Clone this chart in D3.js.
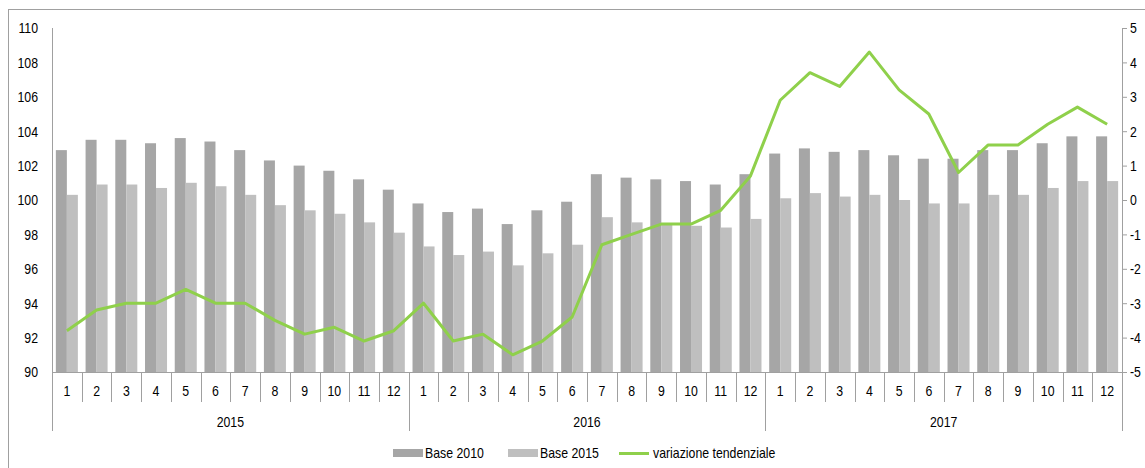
<!DOCTYPE html>
<html>
<head>
<meta charset="utf-8">
<script src="https://cdn.jsdelivr.net/npm/d3@7"></script>
<style>
  body { margin: 0; background: #fff; }
  text { font-family: "Liberation Sans Narrow", "Arial Narrow", "Liberation Sans", Arial, sans-serif; font-size: 15px; fill: #000; }
</style>
</head>
<body>
<script>
// chart values
const years = ["2015", "2016", "2017"];
const months = ["1","2","3","4","5","6","7","8","9","10","11","12"];
const base2010 = [
  102.9, 103.5, 103.5, 103.3, 103.6, 103.4, 102.9, 102.3, 102.0, 101.7, 101.2, 100.6,
  99.8, 99.3, 99.5, 98.6, 99.4, 99.9, 101.5, 101.3, 101.2, 101.1, 100.9, 101.5,
  102.7, 103.0, 102.8, 102.9, 102.6, 102.4, 102.4, 102.9, 102.9, 103.3, 103.7, 103.7
];
const base2015 = [
  100.3, 100.9, 100.9, 100.7, 101.0, 100.8, 100.3, 99.7, 99.4, 99.2, 98.7, 98.1,
  97.3, 96.8, 97.0, 96.2, 96.9, 97.4, 99.0, 98.7, 98.6, 98.5, 98.4, 98.9,
  100.1, 100.4, 100.2, 100.3, 100.0, 99.8, 99.8, 100.3, 100.3, 100.7, 101.1, 101.1
];
const variazione = [
  -3.8, -3.2, -3.0, -3.0, -2.6, -3.0, -3.0, -3.5, -3.9, -3.7, -4.1, -3.8,
  -3.0, -4.1, -3.9, -4.5, -4.1, -3.4, -1.3, -1.0, -0.7, -0.7, -0.3, 0.7,
  2.9, 3.7, 3.3, 4.3, 3.2, 2.5, 0.8, 1.6, 1.6, 2.2, 2.7, 2.2
];
const leftTicks = [90, 92, 94, 96, 98, 100, 102, 104, 106, 108, 110];
const rightTicks = [-5, -4, -3, -2, -1, 0, 1, 2, 3, 4, 5];
const seriesNames = ["Base 2010", "Base 2015", "variazione tendenziale"];

const W = 1145, H = 468;
const mLeft = 52, mRight = 1122, mTop = 28, mBottom = 372;
const cDark = "#a6a6a6", cLight = "#bfbfbf", cGreen = "#8fd04b", cAxis = "#a0a0a0";

const svg = d3.select("body").append("svg")
  .attr("width", W)
  .attr("height", H);

// outer frame (cut off at right/bottom like the original)
svg.append("rect")
  .attr("x", 8.5).attr("y", 9.5)
  .attr("width", 1300).attr("height", 600)
  .attr("fill", "none").attr("stroke", cAxis);

const idx = d3.range(36);
const x = d3.scaleBand().domain(idx).range([mLeft, mRight]).padding(0);
const xs = d3.scaleBand().domain([0, 1]).range([0, x.bandwidth()]).paddingInner(0).paddingOuter(0.35);
const yL = d3.scaleLinear().domain([90, 110]).range([mBottom, mTop]);
const yR = d3.scaleLinear().domain([-5, 5]).range([mBottom, mTop]);

// bars
const bars = svg.append("g");
[base2010, base2015].forEach((s, k) => {
  bars.selectAll(null).data(s).enter().append("rect")
    .attr("x", (d, i) => x(i) + xs(k))
    .attr("width", xs.bandwidth())
    .attr("y", d => yL(d))
    .attr("height", d => yL(90) - yL(d))
    .attr("fill", k === 0 ? cDark : cLight);
});

// left axis
const gL = svg.append("g").attr("transform", `translate(${mLeft},0)`)
  .call(d3.axisLeft(yL).tickValues(leftTicks).tickSize(0).tickPadding(14).tickFormat(d => String(d)));
gL.select(".domain").attr("stroke", cAxis).attr("d", `M0.5,${mTop}V${mBottom}`);

// right axis
const gR = svg.append("g").attr("transform", `translate(${mRight},0)`)
  .call(d3.axisRight(yR).tickValues(rightTicks).tickSize(5).tickPadding(3).tickFormat(d => String(d)));
gR.select(".domain").attr("stroke", cAxis).attr("d", `M0.5,${mTop}V${mBottom}`);
gR.selectAll(".tick line").attr("stroke", cAxis);

svg.selectAll(".tick text").attr("font-family", null).attr("font-size", null);

// category axis
const gX = svg.append("g");
gX.append("line").attr("x1", mLeft).attr("x2", mRight).attr("y1", mBottom + 0.5).attr("y2", mBottom + 0.5).attr("stroke", cAxis);
gX.selectAll(".msep").data(d3.range(37)).enter().append("line")
  .attr("x1", i => Math.round(i < 36 ? x(i) : mRight) + 0.5)
  .attr("x2", i => Math.round(i < 36 ? x(i) : mRight) + 0.5)
  .attr("y1", mBottom)
  .attr("y2", i => i % 12 === 0 ? 431 : 402)
  .attr("stroke", cAxis);
gX.selectAll(".mlab").data(idx).enter().append("text")
  .attr("x", i => x(i) + x.bandwidth() / 2)
  .attr("y", 396)
  .attr("text-anchor", "middle")
  .text(i => months[i % 12]);
gX.selectAll(".ylab").data(years).enter().append("text")
  .attr("x", (d, j) => (x(j * 12) + (j < 2 ? x(j * 12 + 12) : mRight)) / 2)
  .attr("y", 427)
  .attr("text-anchor", "middle")
  .text(d => d);

// line
const line = d3.line()
  .x((d, i) => x(i) + x.bandwidth() / 2)
  .y(d => yR(d));
svg.append("path").datum(variazione)
  .attr("d", line)
  .attr("fill", "none")
  .attr("stroke", cGreen)
  .attr("stroke-width", 3)
  .attr("stroke-linejoin", "round");

// legend
const lg = svg.append("g");
const lx = [393, 508, 619];
seriesNames.forEach((n, k) => {
  if (k < 2) {
    lg.append("rect").attr("x", lx[k]).attr("y", 449).attr("width", 30).attr("height", 8)
      .attr("fill", k === 0 ? cDark : cLight);
  } else {
    lg.append("line").attr("x1", lx[k]).attr("x2", lx[k] + 30).attr("y1", 453.5).attr("y2", 453.5)
      .attr("stroke", cGreen).attr("stroke-width", 3);
  }
  lg.append("text").attr("x", lx[k] + (k < 2 ? 32 : 34)).attr("y", 458).text(n);
});

// narrow the text like the original's condensed face
svg.selectAll("text").each(function () {
  const w = this.getComputedTextLength();
  d3.select(this).attr("textLength", w * 0.82).attr("lengthAdjust", "spacingAndGlyphs");
});
</script>
</body>
</html>
